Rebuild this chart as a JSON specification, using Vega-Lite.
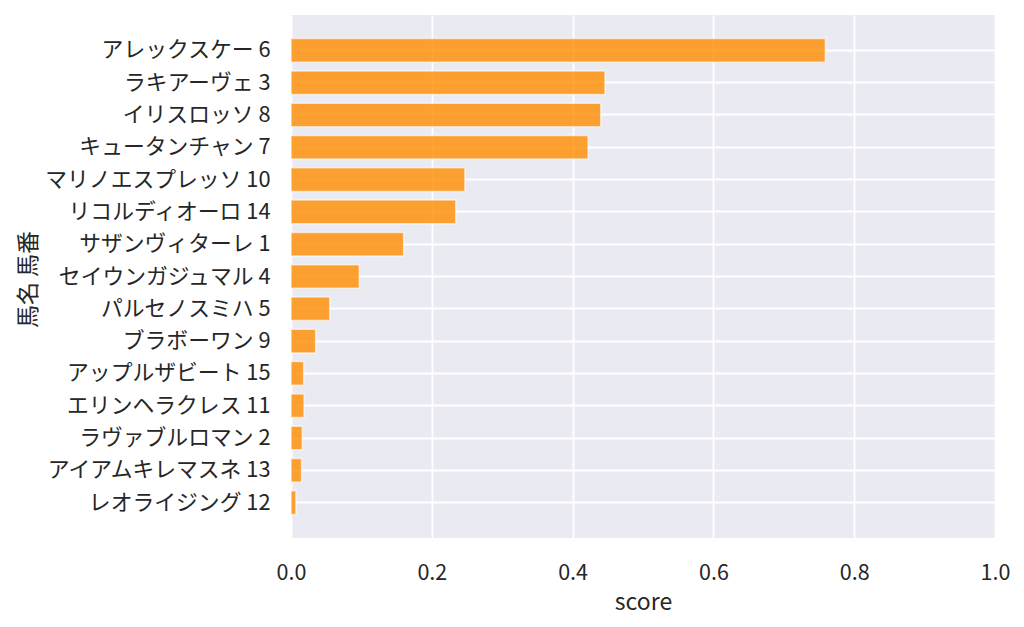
{
  "$schema": "https://vega.github.io/schema/vega-lite/v6.json",
  "width": 704,
  "height": 523,
  "autosize": {"type": "none"},
  "padding": {"left": 291, "top": 15, "right": 29, "bottom": 89},
  "background": "white",
  "data": {
    "values": [
      {"horse": "アレックスケー 6", "score": 0.759},
      {"horse": "ラキアーヴェ 3", "score": 0.446},
      {"horse": "イリスロッソ 8", "score": 0.440},
      {"horse": "キュータンチャン 7", "score": 0.422},
      {"horse": "マリノエスプレッソ 10", "score": 0.247},
      {"horse": "リコルディオーロ 14", "score": 0.234},
      {"horse": "サザンヴィターレ 1", "score": 0.160},
      {"horse": "セイウンガジュマル 4", "score": 0.097},
      {"horse": "パルセノスミハ 5", "score": 0.055},
      {"horse": "ブラボーワン 9", "score": 0.035},
      {"horse": "アップルザビート 15", "score": 0.018},
      {"horse": "エリンヘラクレス 11", "score": 0.0185},
      {"horse": "ラヴァブルロマン 2", "score": 0.016},
      {"horse": "アイアムキレマスネ 13", "score": 0.015},
      {"horse": "レオライジング 12", "score": 0.007}
    ]
  },
  "mark": {
    "type": "bar",
    "fill": "#ff8c00",
    "fillOpacity": 0.8,
    "stroke": "#ffffff",
    "strokeOpacity": 0.6,
    "strokeWidth": 1.5
  },
  "encoding": {
    "y": {
      "field": "horse",
      "type": "nominal",
      "sort": null,
      "title": "馬名 馬番",
      "scale": {"paddingInner": 0.27, "paddingOuter": 0.73},
      "axis": {
        "bandPosition": 0.5,
        "grid": true,
        "ticks": false,
        "domain": false,
        "labelPadding": 21,
        "labelLimit": 400,
        "labelFontSize": 21.8,
        "titleFontSize": 23,
        "titleX": -263,
        "titleY": 264,
        "titleAngle": -90,
        "titleAlign": "center",
        "titleBaseline": "middle"
      }
    },
    "x": {
      "field": "score",
      "type": "quantitative",
      "title": "score",
      "scale": {"domain": [0, 1], "nice": false},
      "axis": {
        "values": [0, 0.2, 0.4, 0.6, 0.8, 1.0],
        "format": ".1f",
        "grid": true,
        "ticks": false,
        "domain": false,
        "labelFlush": false,
        "labelPadding": 24,
        "labelFontSize": 21.5,
        "titleFontSize": 23,
        "titlePadding": 8
      }
    }
  },
  "config": {
    "view": {"fill": "#eaeaf2", "stroke": null},
    "font": "Noto Sans CJK JP",
    "axis": {
      "gridColor": "#ffffff",
      "gridWidth": 1.8,
      "labelColor": "#262626",
      "titleColor": "#262626",
      "labelFont": "Noto Sans CJK JP",
      "titleFont": "Noto Sans CJK JP",
      "titleFontWeight": "normal"
    }
  }
}
